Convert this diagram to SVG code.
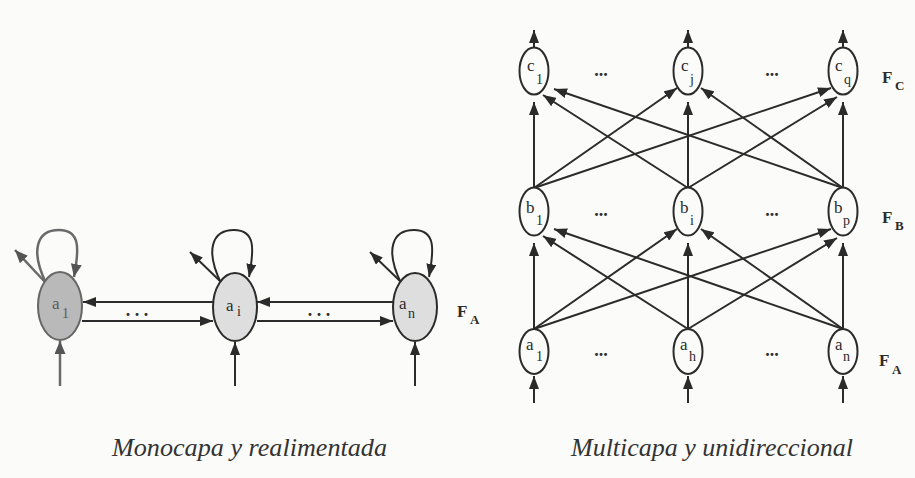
<svg xmlns="http://www.w3.org/2000/svg" width="915" height="478" viewBox="0 0 915 478">
<style>
.ln{stroke:#2b2b2b;stroke-width:2;fill:none}
.lg{stroke:#6a6a6a;stroke-width:2.5;fill:none}
.nd{stroke:#2b2b2b;stroke-width:2;fill:#fbfbfa}
.nl{stroke:#2b2b2b;stroke-width:2;fill:#dedede}
.lab{font-family:"Liberation Serif",serif;font-size:17px;fill:#2b2b2b}
.sub{font-family:"Liberation Serif",serif;font-size:14px;fill:#2b2b2b}
.F{font-family:"Liberation Serif",serif;font-size:17px;font-weight:bold;fill:#2b2b2b}
.Fs{font-family:"Liberation Serif",serif;font-size:13px;font-weight:bold;fill:#2b2b2b}
.dots{font-family:"Liberation Serif",serif;font-size:18px;font-weight:bold;fill:#2b2b2b}
.cap{font-family:"Liberation Serif",serif;font-size:25px;font-style:italic;fill:#333}
</style>
<defs>
<marker id="ah" markerUnits="userSpaceOnUse" markerWidth="13" markerHeight="10" refX="13" refY="5" orient="auto"><path d="M0,0 L13,5 L0,10 z" fill="#2b2b2b"/></marker>
<marker id="ahg" markerUnits="userSpaceOnUse" markerWidth="13" markerHeight="11" refX="13" refY="5.5" orient="auto"><path d="M0,0 L13,5.5 L0,11 z" fill="#555"/></marker>
</defs>
<rect width="915" height="478" fill="#fbfbfa"/>

<!-- connectors -->
<g id="connectors">
  <!-- left diagram -->
  <path class="lg" d="M46,283 C30,250 37,230 59,230 C81,230 79,250 74,277" marker-end="url(#ahg)"/>
  <line class="lg" x1="45" y1="282" x2="15" y2="250" stroke-width="4" marker-end="url(#ahg)"/>
  <path class="ln" d="M221,283 C205,250 212,230 234,230 C256,230 254,250 249,277" marker-end="url(#ah)"/>
  <line class="ln" x1="220" y1="281" x2="190" y2="252" marker-end="url(#ah)"/>
  <path class="ln" d="M401,283 C385,250 392,230 414,230 C436,230 434,250 429,277" marker-end="url(#ah)"/>
  <line class="ln" x1="400" y1="281" x2="370" y2="252" marker-end="url(#ah)"/>
  <line class="ln" x1="213" y1="302" x2="83" y2="302" marker-end="url(#ah)"/>
  <line class="ln" x1="82" y1="321" x2="213" y2="321" marker-end="url(#ah)"/>
  <line class="ln" x1="393" y1="302" x2="257" y2="302" marker-end="url(#ah)"/>
  <line class="ln" x1="257" y1="321" x2="393" y2="321" marker-end="url(#ah)"/>
  <line class="lg" x1="60" y1="386" x2="60" y2="341" marker-end="url(#ahg)"/>
  <line class="ln" x1="235" y1="386" x2="235" y2="342" marker-end="url(#ah)"/>
  <line class="ln" x1="415" y1="386" x2="415" y2="342" marker-end="url(#ah)"/>

  <!-- right diagram: outputs -->
  <line class="ln" x1="534" y1="47" x2="534" y2="30" marker-end="url(#ah)"/>
  <line class="ln" x1="688" y1="47" x2="688" y2="30" marker-end="url(#ah)"/>
  <line class="ln" x1="843" y1="47" x2="843" y2="30" marker-end="url(#ah)"/>
  <!-- b -> c -->
  <line class="ln" x1="534" y1="188" x2="534" y2="102" marker-end="url(#ah)"/>
  <line class="ln" x1="688" y1="188" x2="688" y2="102" marker-end="url(#ah)"/>
  <line class="ln" x1="843" y1="188" x2="843" y2="102" marker-end="url(#ah)"/>
  <line class="ln" x1="688" y1="188" x2="543" y2="95" marker-end="url(#ah)"/>
  <line class="ln" x1="843" y1="188" x2="554" y2="89" marker-end="url(#ah)"/>
  <line class="ln" x1="534" y1="188" x2="677" y2="88" marker-end="url(#ah)"/>
  <line class="ln" x1="843" y1="188" x2="701" y2="88" marker-end="url(#ah)"/>
  <line class="ln" x1="534" y1="188" x2="831" y2="88" marker-end="url(#ah)"/>
  <line class="ln" x1="688" y1="188" x2="837" y2="97" marker-end="url(#ah)"/>
  <!-- a -> b -->
  <line class="ln" x1="534" y1="329" x2="534" y2="243" marker-end="url(#ah)"/>
  <line class="ln" x1="688" y1="329" x2="688" y2="243" marker-end="url(#ah)"/>
  <line class="ln" x1="843" y1="329" x2="843" y2="243" marker-end="url(#ah)"/>
  <line class="ln" x1="688" y1="329" x2="543" y2="236" marker-end="url(#ah)"/>
  <line class="ln" x1="843" y1="329" x2="554" y2="229" marker-end="url(#ah)"/>
  <line class="ln" x1="534" y1="329" x2="677" y2="229" marker-end="url(#ah)"/>
  <line class="ln" x1="843" y1="329" x2="701" y2="229" marker-end="url(#ah)"/>
  <line class="ln" x1="534" y1="329" x2="831" y2="229" marker-end="url(#ah)"/>
  <line class="ln" x1="688" y1="329" x2="837" y2="238" marker-end="url(#ah)"/>
  <!-- inputs -->
  <line class="ln" x1="534" y1="403" x2="534" y2="376" marker-end="url(#ah)"/>
  <line class="ln" x1="688" y1="403" x2="688" y2="376" marker-end="url(#ah)"/>
  <line class="ln" x1="843" y1="403" x2="843" y2="376" marker-end="url(#ah)"/>
</g>

<!-- left diagram nodes -->
<g id="L_a1">
  <ellipse cx="60" cy="306" rx="22" ry="34" fill="#b9b9b9" stroke="#666" stroke-width="2"/>
  <text class="lab" x="52" y="309" style="fill:#5a5a5a">a</text><text class="sub" x="62" y="318" style="fill:#5a5a5a">1</text>
</g>
<g id="L_ai">
  <ellipse class="nl" cx="235" cy="307" rx="22" ry="34"/>
  <text class="lab" x="226" y="311">a</text><text class="sub" x="237" y="316">i</text>
</g>
<g id="L_an">
  <ellipse class="nl" cx="415" cy="307" rx="22" ry="34"/>
  <text class="lab" x="399" y="309">a</text><text class="sub" x="408" y="318">n</text>
</g>
<g id="L_labels">
  <text class="dots" x="137" y="316" text-anchor="middle">. . .</text>
  <text class="dots" x="319" y="316" text-anchor="middle">. . .</text>
  <text class="F" x="457" y="317" font-size="15">F</text><text class="Fs" x="470" y="324">A</text>
</g>

<!-- right diagram nodes -->
<g id="c1"><ellipse class="nd" cx="534" cy="71" rx="14.5" ry="23.5"/><text class="lab" x="527" y="71">c</text><text class="sub" x="536" y="84">1</text></g>
<g id="cj"><ellipse class="nd" cx="688" cy="71" rx="14.5" ry="23.5"/><text class="lab" x="681" y="71">c</text><text class="sub" x="690" y="84">j</text></g>
<g id="cq"><ellipse class="nd" cx="843" cy="71" rx="14.5" ry="23.5"/><text class="lab" x="835" y="71">c</text><text class="sub" x="844" y="84">q</text></g>
<g id="b1"><ellipse class="nd" cx="534" cy="211.5" rx="14.5" ry="24"/><text class="lab" x="526" y="213">b</text><text class="sub" x="536" y="225">1</text></g>
<g id="bi"><ellipse class="nd" cx="688" cy="211.5" rx="14.5" ry="24"/><text class="lab" x="680" y="213">b</text><text class="sub" x="690" y="225">i</text></g>
<g id="bp"><ellipse class="nd" cx="843" cy="211.5" rx="14.5" ry="24"/><text class="lab" x="834" y="213">b</text><text class="sub" x="843" y="225">p</text></g>
<g id="a1"><ellipse class="nd" cx="534" cy="351.5" rx="14.5" ry="22.5"/><text class="lab" x="526" y="350">a</text><text class="sub" x="536" y="361">1</text></g>
<g id="ah_node"><ellipse class="nd" cx="688" cy="351.5" rx="14.5" ry="22.5"/><text class="lab" x="680" y="350">a</text><text class="sub" x="689" y="361">h</text></g>
<g id="an"><ellipse class="nd" cx="843" cy="351.5" rx="14.5" ry="22.5"/><text class="lab" x="835" y="350">a</text><text class="sub" x="843" y="361">n</text></g>
<g id="R_labels">
  <text class="dots" x="601" y="76" text-anchor="middle">...</text>
  <text class="dots" x="772" y="76" text-anchor="middle">...</text>
  <text class="dots" x="601" y="216" text-anchor="middle">...</text>
  <text class="dots" x="772" y="216" text-anchor="middle">...</text>
  <text class="dots" x="601" y="356" text-anchor="middle">...</text>
  <text class="dots" x="772" y="356" text-anchor="middle">...</text>
  <text class="F" x="882" y="83">F</text><text class="Fs" x="895" y="90">C</text>
  <text class="F" x="882" y="223">F</text><text class="Fs" x="895" y="230">B</text>
  <text class="F" x="879" y="366">F</text><text class="Fs" x="892" y="374">A</text>
</g>

<!-- captions -->
<text class="cap" x="112" y="456" textLength="275" lengthAdjust="spacingAndGlyphs">Monocapa y realimentada</text>
<text class="cap" x="571" y="456" textLength="282" lengthAdjust="spacingAndGlyphs">Multicapa y unidireccional</text>
</svg>
